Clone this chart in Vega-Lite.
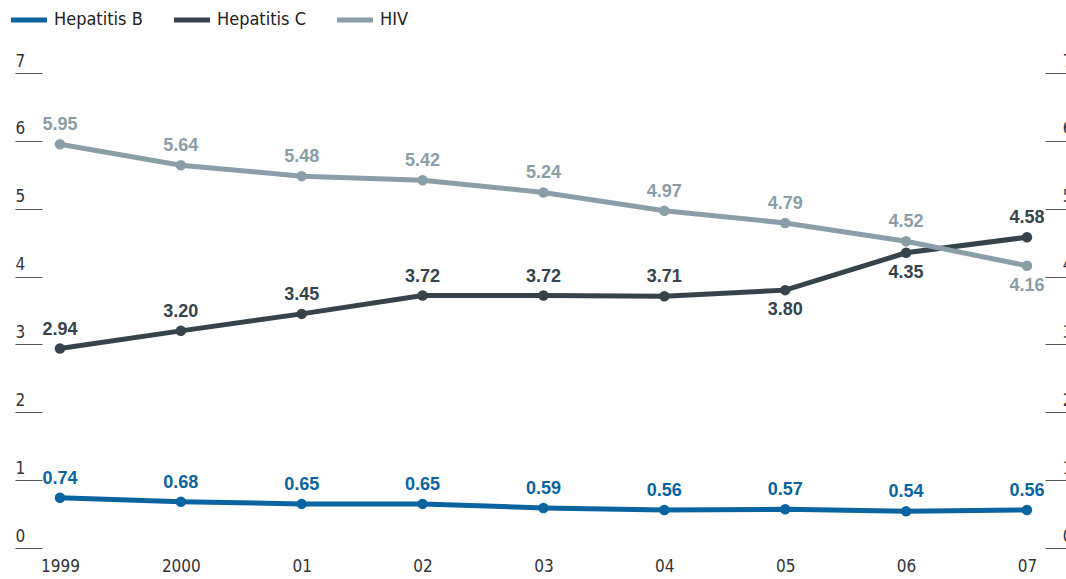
{
  "$schema": "https://vega.github.io/schema/vega-lite/v6.json",
  "width": 1066,
  "height": 475,
  "autosize": {"type": "none"},
  "padding": {"top": 73, "bottom": 31, "left": 0, "right": 0},
  "background": "white",
  "data": {
    "values": [
      {"year": 1999, "series": "Hepatitis B", "value": 0.74},
      {"year": 2000, "series": "Hepatitis B", "value": 0.68},
      {"year": 2001, "series": "Hepatitis B", "value": 0.65},
      {"year": 2002, "series": "Hepatitis B", "value": 0.65},
      {"year": 2003, "series": "Hepatitis B", "value": 0.59},
      {"year": 2004, "series": "Hepatitis B", "value": 0.56},
      {"year": 2005, "series": "Hepatitis B", "value": 0.57},
      {"year": 2006, "series": "Hepatitis B", "value": 0.54},
      {"year": 2007, "series": "Hepatitis B", "value": 0.56},
      {"year": 1999, "series": "Hepatitis C", "value": 2.94},
      {"year": 2000, "series": "Hepatitis C", "value": 3.20},
      {"year": 2001, "series": "Hepatitis C", "value": 3.45},
      {"year": 2002, "series": "Hepatitis C", "value": 3.72},
      {"year": 2003, "series": "Hepatitis C", "value": 3.72},
      {"year": 2004, "series": "Hepatitis C", "value": 3.71},
      {"year": 2005, "series": "Hepatitis C", "value": 3.80},
      {"year": 2006, "series": "Hepatitis C", "value": 4.35},
      {"year": 2007, "series": "Hepatitis C", "value": 4.58},
      {"year": 1999, "series": "HIV", "value": 5.95},
      {"year": 2000, "series": "HIV", "value": 5.64},
      {"year": 2001, "series": "HIV", "value": 5.48},
      {"year": 2002, "series": "HIV", "value": 5.42},
      {"year": 2003, "series": "HIV", "value": 5.24},
      {"year": 2004, "series": "HIV", "value": 4.97},
      {"year": 2005, "series": "HIV", "value": 4.79},
      {"year": 2006, "series": "HIV", "value": 4.52},
      {"year": 2007, "series": "HIV", "value": 4.16}
    ]
  },
  "encoding": {
    "x": {
      "field": "year",
      "type": "quantitative",
      "scale": {"domain": [1998.504, 2007.323], "nice": false, "zero": false},
      "axis": {
        "title": null,
        "orient": "bottom",
        "values": [1999, 2000, 2001, 2002, 2003, 2004, 2005, 2006, 2007],
        "labelExpr": "datum.value < 2001 ? '' + datum.value : '0' + (datum.value - 2000)",
        "domain": false,
        "ticks": false,
        "grid": false,
        "labelPadding": 10,
        "labelFontSize": 17,
        "labelColor": "#333333",
        "labelFont": "Liberation Sans Narrow, DejaVu Sans Condensed, sans-serif"
      }
    },
    "y": {
      "field": "value",
      "type": "quantitative",
      "scale": {"domain": [0, 7], "nice": false, "zero": true},
      "axis": null
    },
    "color": {
      "field": "series",
      "type": "nominal",
      "scale": {
        "domain": ["Hepatitis B", "Hepatitis C", "HIV"],
        "range": ["#0a64a0", "#36434b", "#8a9ea8"]
      },
      "legend": {
        "title": null,
        "orient": "none",
        "legendX": 8,
        "legendY": -74,
        "direction": "horizontal",
        "symbolType": "stroke",
        "symbolSize": 1300,
        "symbolStrokeWidth": 5,
        "labelFontSize": 18,
        "labelColor": "#222222",
        "labelFont": "Liberation Sans Narrow, DejaVu Sans Condensed, sans-serif",
        "columnPadding": 20,
        "padding": 0
      }
    }
  },
  "layer": [
    {
      "mark": {"type": "line", "strokeWidth": 5},
      "encoding": {
        "y": {
          "field": "value",
          "type": "quantitative",
          "axis": {
            "title": null,
            "orient": "left",
            "offset": -42,
            "values": [0, 1, 2, 3, 4, 5, 6, 7],
            "domain": false,
            "grid": false,
            "tickSize": 27,
            "tickColor": "#555555",
            "tickWidth": 1,
            "labelAlign": "left",
            "labelBaseline": "bottom",
            "labelOffset": -3,
            "labelPadding": 0,
            "labelFontSize": 17,
            "labelColor": "#333333",
            "labelFont": "Liberation Sans Narrow, DejaVu Sans Condensed, sans-serif"
          }
        }
      }
    },
    {
      "mark": {"type": "circle", "size": 110, "opacity": 1},
      "encoding": {
        "y": {
          "field": "value",
          "type": "quantitative",
          "axis": {
            "title": null,
            "orient": "right",
            "offset": -21,
            "values": [0, 1, 2, 3, 4, 5, 6, 7],
            "domain": false,
            "grid": false,
            "tickSize": 27,
            "tickColor": "#555555",
            "tickWidth": 1,
            "labelAlign": "right",
            "labelBaseline": "bottom",
            "labelOffset": -3,
            "labelPadding": 0,
            "labelFontSize": 17,
            "labelColor": "#333333",
            "labelFont": "Liberation Sans Narrow, DejaVu Sans Condensed, sans-serif"
          }
        }
      }
    },
    {
      "transform": [
        {"filter": "!((datum.series == 'Hepatitis C' && (datum.year == 2005 || datum.year == 2006)) || (datum.series == 'HIV' && datum.year == 2007))"}
      ],
      "mark": {"type": "text", "dy": -19, "fontSize": 18, "fontWeight": "bold", "font": "Liberation Sans, Arial, sans-serif"},
      "encoding": {
        "text": {"field": "value", "type": "quantitative", "format": ".2f"}
      }
    },
    {
      "transform": [
        {"filter": "(datum.series == 'Hepatitis C' && (datum.year == 2005 || datum.year == 2006)) || (datum.series == 'HIV' && datum.year == 2007)"}
      ],
      "mark": {"type": "text", "dy": 20, "fontSize": 18, "fontWeight": "bold", "font": "Liberation Sans, Arial, sans-serif"},
      "encoding": {
        "text": {"field": "value", "type": "quantitative", "format": ".2f"}
      }
    }
  ],
  "resolve": {"axis": {"y": "independent"}},
  "config": {"view": {"stroke": null}}
}
